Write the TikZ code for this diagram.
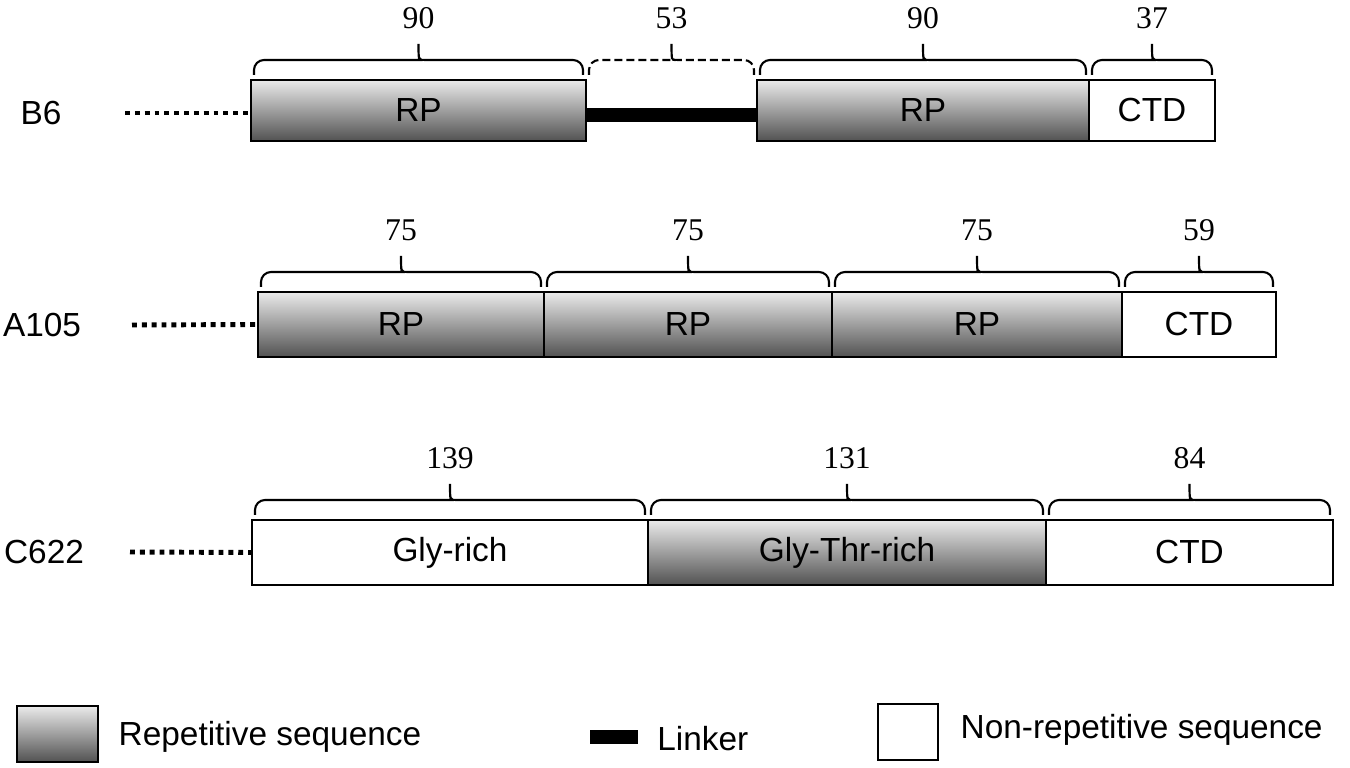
\documentclass[tikz,border=0pt]{standalone}
\usepackage{fontspec}
\setmainfont{Liberation Serif}
\newfontfamily\arial{Liberation Sans}
\usetikzlibrary{positioning}

\begin{document}
\begin{tikzpicture}[x=0.1mm, y=-0.1mm,
    seg/.style={draw, line width=0.6pt, inner sep=0pt, outer sep=0pt, font=\arial\fontsize{9.5}{11}\selectfont},
    rp/.style={seg, top color=black!8, bottom color=black!68},
    nrp/.style={seg, fill=white},
    gap/.style={inner sep=0pt, outer sep=0pt},
    lbl/.style={inner sep=0pt, font=\arial\fontsize{9.5}{11}\selectfont},
    num/.style={yshift=2.6mm, inner sep=0pt, font=\fontsize{9}{11}\selectfont},
    brc/.style={line width=0.6pt},
    gapdash/.style={dash pattern=on 0.8mm off 0.4mm},
    dots/.style={line width=1.4pt, dash pattern=on 1.4pt off 1.4pt},
    linker/.style={line width=4pt}]
    \useasboundingbox (0,0) rectangle (1350,768);

    % B6
    \node[rp, minimum width=33.5mm, minimum height=6.1mm, anchor=north west] (b6rp1) at (251,80) {RP};
    \node[gap, minimum width=17.1mm, minimum height=6.1mm, right=0pt of b6rp1] (b6gap) {};
    \node[rp, minimum width=33.2mm, minimum height=6.1mm, right=0pt of b6gap] (b6rp2) {RP};
    \node[nrp, minimum width=12.6mm, minimum height=6.1mm, right=0pt of b6rp2] (b6ctd) {CTD};
    \draw[linker] ([yshift=-0.45mm]b6rp1.east) -- ([yshift=-0.45mm]b6rp2.west);

    % A105
    \node[rp, minimum width=28.6mm, minimum height=6.5mm, anchor=north west] (a105rp1) at (258,292) {RP};
    \node[rp, minimum width=28.8mm, minimum height=6.5mm, right=0pt of a105rp1] (a105rp2) {RP};
    \node[rp, minimum width=29mm, minimum height=6.5mm, right=0pt of a105rp2] (a105rp3) {RP};
    \node[nrp, minimum width=15.4mm, minimum height=6.5mm, right=0pt of a105rp3] (a105ctd) {CTD};

    % C622
    \node[nrp, minimum width=39.6mm, minimum height=6.5mm, anchor=north west] (c622gly) at (252,520) {Gly-rich};
    \node[rp, minimum width=39.8mm, minimum height=6.5mm, right=0pt of c622gly] (c622glythr) {Gly-Thr-rich};
    \node[nrp, minimum width=28.7mm, minimum height=6.5mm, right=0pt of c622glythr] (c622ctd) {CTD};

    % row names and dotted N-terminal parts
    \node[lbl] (b6) at (41,113) {B6};
    \node[lbl] (a105) at (42,325) {A105};
    \node[lbl] (c622) at (44,552) {C622};
    \coordinate (b6start) at (125,113);
    \coordinate (a105start) at (132,325);
    \coordinate (c622start) at (130,552);
    \draw[dots] (b6start) -- (b6rp1.west |- b6start);
    \draw[dots] (a105start) -- (a105rp1.west);
    \draw[dots] (c622start) -- (c622gly.west);

    % lengths
    \foreach \seg/\len/\sty in {b6rp1/90/solid, b6gap/53/gapdash, b6rp2/90/solid, b6ctd/37/solid,
                                a105rp1/75/solid, a105rp2/75/solid, a105rp3/75/solid, a105ctd/59/solid,
                                c622gly/139/solid, c622glythr/131/solid, c622ctd/84/solid}
        \draw[brc, \sty] ([xshift=0.3mm, yshift=0.5mm]\seg.north west)
            [rounded corners=1mm] |- ([xshift=-0.6mm, yshift=2mm]\seg.north)
            [sharp corners] .. controls ([yshift=2mm]\seg.north) .. ([yshift=3.6mm]\seg.north) node[num] {\len}
            .. controls ([yshift=2mm]\seg.north) .. ([xshift=0.6mm, yshift=2mm]\seg.north)
            [rounded corners=1mm] -| ([xshift=-0.3mm, yshift=0.5mm]\seg.north east);

    % legend
    \node[rp, minimum width=8.1mm, minimum height=5.6mm, anchor=north west] (legrp) at (17,706) {};
    \node[lbl, right=2mm of legrp, yshift=-0.3mm] (legrptxt) {Repetitive sequence};
    \node[fill=black, inner sep=0pt, minimum width=4.8mm, minimum height=1.4mm] (leglink) at (614,737) {};
    \node[lbl, right=1.8mm of leglink, yshift=-0.2mm] (leglinktxt) {Linker};
    \node[nrp, minimum width=6mm, minimum height=5.6mm, anchor=north west] (legnrp) at (878,704) {};
    \node[lbl, right=2.2mm of legnrp, yshift=0.2mm] (legnrptxt) {Non-repetitive sequence};
\end{tikzpicture}
\end{document}
